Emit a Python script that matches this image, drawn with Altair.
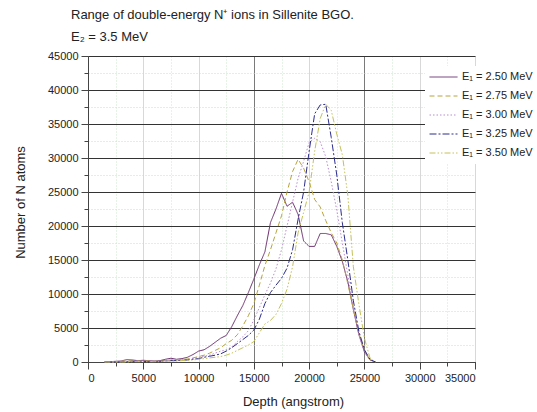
import altair as alt
import pandas as pd

depth = [1500, 2000, 2500, 3000, 3500, 4000, 4500, 5000, 5500, 6000, 6500, 7000, 7500, 8000,
         8500, 9000, 9500, 10000, 10500, 11000, 11500, 12000, 12500, 13000, 13500, 14000,
         14500, 15000, 15500, 16000, 16500, 17000, 17500, 18000, 18500, 19000, 19500, 20000,
         20500, 21000, 21500, 22000, 22500, 23000, 23500, 24000, 24500, 25000, 25500, 26000]

e250 = [0, 50, 100, 150, 350, 300, 200, 250, 200, 150, 200, 400, 550, 400,
        500, 700, 1100, 1600, 1800, 2300, 2900, 3500, 3900, 5200, 6800, 8300,
        10200, 12200, 14300, 16200, 20500, 22500, 24800, 22900, 23500, 21700, 17800, 17000,
        17000, 18900, 18900, 18700, 17000, 14800, 11800, 7700, 4000, 1500, 300, 0]

e275 = [0, 0, 50, 100, 150, 200, 150, 150, 150, 100, 150, 250, 300, 300,
        350, 450, 600, 800, 1000, 1300, 1700, 2100, 2700, 3200, 4000, 5300,
        6800, 8600, 11300, 14200, 16500, 19000, 21500, 25000, 28000, 29800, 28500, 26500,
        23900, 22800, 20800, 19000, 17500, 15000, 11500, 7800, 4200, 1700, 300, 0]

e300 = [0, 0, 0, 50, 100, 150, 150, 100, 100, 100, 100, 200, 250, 250,
        300, 400, 500, 700, 850, 1000, 1300, 1600, 1800, 2200, 3000, 3700,
        4600, 6200, 8000, 9900, 11600, 13700, 16500, 20000, 23500, 27000, 29500, 32300,
        32900, 32400, 30200, 26500, 22300, 17500, 12800, 8000, 4000, 1500, 300, 0]

e325 = [0, 0, 0, 0, 50, 100, 100, 100, 50, 50, 100, 150, 200, 200,
        250, 300, 400, 500, 700, 850, 1000, 1200, 1600, 2100, 2700, 3300,
        3900, 4700, 6300, 8600, 10200, 11300, 12300, 13800, 16500, 21000, 25000, 31000,
        36500, 37800, 37900, 33000, 27500, 20500, 15000, 9000, 4500, 1800, 400, 0]

e350 = [0, 0, 0, 0, 0, 50, 50, 50, 50, 50, 50, 100, 150, 150,
        200, 250, 300, 400, 500, 600, 700, 800, 1000, 1300, 1700, 2100,
        2500, 3000, 4300, 5600, 6100, 7000, 8600, 10700, 14000, 19000, 22000, 25000,
        31000, 35800, 37900, 37000, 33500, 30500, 24500, 14000, 8500, 3500, 600, 0]

labels = ["E\u2081 = 2.50 MeV", "E\u2081 = 2.75 MeV", "E\u2081 = 3.00 MeV",
          "E\u2081 = 3.25 MeV", "E\u2081 = 3.50 MeV"]
series = [e250, e275, e300, e325, e350]
colors = ["#6b2c6e", "#b8a43c", "#b98ccf", "#2c2c8c", "#c4c25a"]
dashes = [[1, 0], [5, 3], [1.5, 2], [7, 2, 2, 2], [6, 2, 1.5, 2, 1.5, 2]]

rows = []
for lab, vals in zip(labels, series):
    for d, v in zip(depth, vals):
        rows.append({"depth": d, "n": v, "series": lab})
df = pd.DataFrame(rows)

W, H = 387, 306
font = "Liberation Sans"

x_major = list(range(0, 35001, 5000))
x_minor = list(range(0, 35001, 2500))
y_major = list(range(0, 45001, 5000))
y_minor = list(range(0, 45001, 2500))

xscale = alt.Scale(domain=[0, 35000], nice=False, zero=False)
yscale = alt.Scale(domain=[0, 45000], nice=False)

minor = alt.Chart(df).mark_line(opacity=0).encode(
    x=alt.X("depth:Q", scale=xscale,
            axis=alt.Axis(values=x_minor, labels=False, title=None, tickSize=4,
                          tickColor="#444", domain=False, grid=True,
                          gridColor="#cfe6cf", gridDash=[1, 2], orient="bottom")),
    y=alt.Y("n:Q", scale=yscale,
            axis=alt.Axis(values=y_minor, labels=False, title=None, tickSize=4,
                          tickColor="#444", domain=False, grid=True,
                          gridColor="#d4d4d4", gridDash=[1, 2], orient="left")),
    detail="series:N",
)

main = alt.Chart(df).mark_line(strokeWidth=1).encode(
    x=alt.X("depth:Q", scale=xscale,
            axis=alt.Axis(values=x_major, format="d", title="Depth (angstrom)", tickSize=7,
                          tickColor="#444", domainColor="#444", labelFontSize=11,
                          labelColor="#222", labelFont=font, labelPadding=3,
                          titleFont=font, titleFontSize=13, titleFontWeight="normal",
                          titleColor="#222", titleX=205, titleY=43,
                          titleBaseline="alphabetic", grid=True,
                          gridColor=alt.condition("datum.value == 15000 || datum.value == 25000",
                                                  alt.value("#7a7a7a"), alt.value("#d8d8d8")),
                          orient="bottom")),
    y=alt.Y("n:Q", scale=yscale,
            axis=alt.Axis(values=y_major, format="d", title="Number of N atoms", tickSize=7,
                          tickColor="#444", domainColor="#444", labelFontSize=11,
                          labelColor="#222", labelFont=font, labelPadding=3,
                          titleFont=font, titleFontSize=13, titleFontWeight="normal",
                          titleColor="#222", titleX=-68, titleY=146, titleAngle=-90,
                          titleAlign="center", titleBaseline="middle",
                          grid=True, gridColor="#333333", gridOpacity=1,
                          orient="left")),
    color=alt.Color("series:N", scale=alt.Scale(domain=labels, range=colors),
                    legend=alt.Legend(title=None, orient="none", legendX=337, legendY=10,
                                      fillColor="white", padding=4,
                                      symbolType="stroke", symbolSize=784,
                                      symbolStrokeWidth=1, labelFont=font,
                                      labelFontSize=11, labelColor="#222",
                                      clipHeight=14, rowPadding=5, labelOffset=4,
                                      labelLimit=0)),
    strokeDash=alt.StrokeDash("series:N", scale=alt.Scale(domain=labels, range=dashes),
                              legend=None),
)

chart = alt.layer(minor, main).resolve_axis(x="independent", y="independent").properties(
    width=W, height=H,
    title=alt.TitleParams(
        text=["Range of double-energy N\u207a ions in Sillenite BGO.", "E\u2082 = 3.5 MeV"],
        anchor="start", dx=57, fontSize=13, font=font, fontWeight="normal",
        color="#222", offset=6, lineHeight=22),
    autosize=alt.AutoSizeParams(type="none"),
    padding={"left": 88, "top": 56, "right": 62, "bottom": 50},
).configure_view(stroke=None).configure(background="white")

chart.save("out.html", embed_options={"renderer": "svg", "actions": False})
